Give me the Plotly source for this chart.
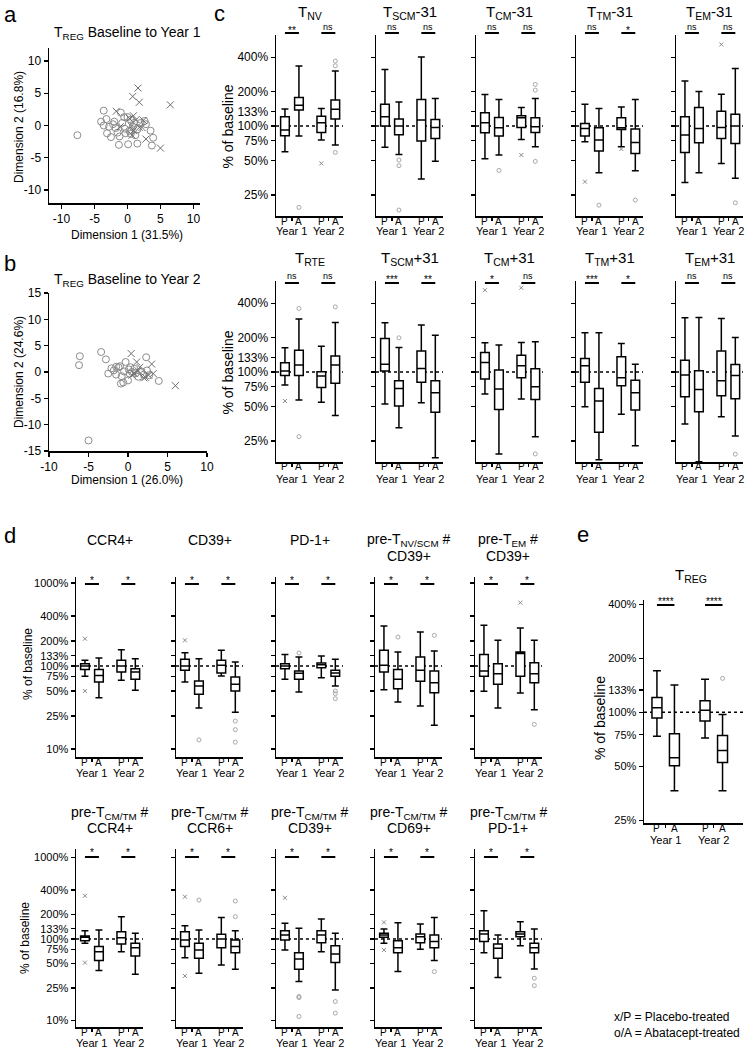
import plotly.graph_objects as go

W, H = 751, 1050
FONT = "Liberation Sans, Arial, sans-serif"

# ---------------- data ----------------
# Panel a: MDS coordinates (Baseline to Year 1)
a_abat_x = [-7.6, -3.6, -3.2, -4.0, -3.6, -3.1, -2.5, -2.0, -1.8, -1.5, -1.2, -1.0, -1.3, -0.5, -0.8, 0.0, 0.3, 0.5,
            -0.3, 0.1, 0.8, 1.0, 1.5, 1.5, 2.0, 2.6, 2.8, 3.5, 3.9, 3.7, -0.4, -2.8, 0.5, -2.2, 1.2]
a_abat_y = [-1.5, 2.3, 1.0, 0.6, 0.0, -1.2, -1.8, 0.6, -0.4, -1.1, -1.7, 2.0, -3.0, 1.3, 0.4, 1.3, -0.8, -1.3,
            -1.2, -2.9, -0.2, 0.4, -0.6, -2.8, 0.4, 0.7, 0.2, -0.8, -1.9, -3.1, -0.5, -0.2, 0.9, 0.2, -1.5]
a_plac_x = [1.6, 0.8, 1.8, 6.5, -1.7, 0.9, 0.3, 1.3, 2.4, 0.6, 0.9, 0.7, 2.8, 5.0, -1.1, 1.8, 2.2]
a_plac_y = [5.8, 4.5, 3.6, 3.2, 2.2, 1.5, 1.1, 0.9, 0.8, -0.1, -0.8, -1.5, -2.1, -3.5, -0.2, -0.3, -0.3]

# Panel b: MDS coordinates (Baseline to Year 2)
b_abat_x = [-6.1, -6.2, -3.4, -2.8, 2.3, -2.5, -2.1, -1.8, -1.5, -1.2, -1.0, -0.9, -0.6, -0.8, -0.5, -0.3, 0.0,
            0.2, 0.5, 0.8, 1.0, 1.3, 1.7, 2.0, 2.4, 2.7, 3.9, -5.0, 0.1, 0.3, -1.5]
b_abat_y = [3.0, 1.3, 3.8, 2.4, 2.8, -0.3, 0.7, 0.3, -0.5, 0.9, 1.1, -2.2, -2.0, -0.8, 0.1, 1.9, -1.6,
            -0.3, 0.0, 0.6, -0.2, -0.9, 0.1, -0.5, 0.3, -0.6, -1.7, -13.0, 0.5, 0.9, 1.0]
b_plac_x = [0.4, 1.1, 1.5, 2.0, 2.6, 3.0, 3.2, 6.0, 0.8, 1.3, 2.2, 0.5]
b_plac_y = [3.5, 1.9, 0.9, -1.1, -0.6, 1.5, -0.3, -2.6, -0.3, 0.2, -1.0, -0.6]

GROUP_LABELS = ["P", "A", "P", "A"]
YEAR_LABELS = ["Year 1", "Year 2"]

c_ticks = [25, 50, 75, 100, 133, 200, 400]
d_ticks = [10, 25, 50, 75, 100, 133, 200, 400, 1000]
e_ticks = [25, 50, 75, 100, 133, 200, 400]

# box stats: [lower whisker, Q1, median, Q3, upper whisker] (% of baseline), order P-Y1, A-Y1, P-Y2, A-Y2
c_top_titles = ["T<sub>NV</sub>", "T<sub>SCM</sub>-31", "T<sub>CM</sub>-31", "T<sub>TM</sub>-31", "T<sub>EM</sub>-31"]
c_top_sig = [["**", "ns"], ["ns", "ns"], ["ns", "ns"], ["ns", "*"], ["ns", "ns"]]
c_top_boxes = [
    [[59.7, 82.4, 92.3, 120.6, 140.7], [81.8, 138, 152, 178, 334], [75.5, 88, 107, 122, 142.6], [68.3, 115, 140, 169, 302]],
    [[65.2, 100, 120.6, 155, 312], [56.6, 84, 100, 115, 162], [34.5, 74, 113, 171, 400], [49.2, 78, 97.4, 114, 174]],
    [[51.9, 87.5, 107, 130.7, 189], [55.9, 81.8, 96.7, 119, 171], [76.5, 97.4, 118, 123, 145], [66, 88, 98.7, 118, 174]],
    [[73, 81.8, 95.4, 105.5, 155], [39.2, 60.5, 75.5, 96.7, 142.6], [66, 93.5, 96.7, 118, 147], [40.8, 57.7, 72, 94.1, 171]],
    [[32.2, 58.9, 83.5, 120.6, 247], [39.2, 71.5, 95.4, 145, 200], [47.2, 78, 97.4, 135, 190], [35, 70.6, 100, 127, 318]],
]
c_top_out = [
    [[], [19.5], [47.2], [369, 336, 58.9]],
    [[], [50.5, 45.1, 18.5], [], []],
    [[], [41], [55.9], [231, 206, 49.2]],
    [[32.7], [20.4], [63], [22.6]],
    [[], [], [516], [21.4]],
]

c_bot_titles = ["T<sub>RTE</sub>", "T<sub>SCM</sub>+31", "T<sub>CM</sub>+31", "T<sub>TM</sub>+31", "T<sub>EM</sub>+31"]
c_bot_sig = [["ns", "ns"], ["***", "**"], ["*", "ns"], ["***", "*"], ["ns", "ns"]]
c_bot_boxes = [
    [[77, 93.5, 102, 120.6, 163], [57, 93.5, 115, 155, 290], [54.4, 73.5, 92.3, 100.7, 168], [41.7, 79.7, 115, 138, 271]],
    [[52.6, 102, 117, 196, 269], [32.7, 50.5, 72, 84, 164], [54, 81.3, 107.6, 153, 257], [17.9, 44.5, 66, 84, 210]],
    [[64.3, 87, 121, 148, 180], [19.3, 47.2, 71, 104, 172], [58.2, 89.2, 113.5, 140, 181], [27.3, 57.7, 74.5, 107, 184]],
    [[49.9, 81.3, 113.5, 131.5, 220], [17.2, 29.8, 55.9, 72, 220], [42.8, 76, 89.2, 136, 178], [22.8, 46.6, 66, 85, 117]],
    [[35.2, 61, 94.1, 127, 298], [16.5, 45.1, 70.6, 102.7, 300], [40.8, 62.2, 84, 153, 294], [27.7, 58.5, 93.5, 116.6, 200]],
]
c_bot_out = [
    [[55.9], [359, 27.3], [], [371]],
    [[], [199], [], []],
    [[519], [], [544], [19.3]],
    [[], [], [], []],
    [[], [], [], [19.2]],
]

d_top_titles = [["CCR4+"], ["CD39+"], ["PD-1+"], ["pre-T<sub>NV/SCM</sub> #", "CD39+"], ["pre-T<sub>EM</sub> #", "CD39+"]]
d_top_boxes = [
    [[75.1, 91, 100, 106.7, 117], [41.5, 64, 77, 91, 125], [67.2, 84.7, 100, 117, 157], [50.9, 69.1, 84.7, 92.9, 122.6]],
    [[64, 88.7, 100, 120.3, 144.8], [31.2, 45.6, 57.4, 66, 122.6], [75.7, 82.3, 101.9, 117, 154.5], [27.8, 50, 60.1, 73.7, 111.7]],
    [[69.1, 92.9, 100, 106.7, 138], [48.6, 69.1, 82, 87, 128.4], [72.3, 95.5, 103.8, 108.7, 132], [57.4, 75.1, 82.3, 88.7, 120.3]],
    [[51.9, 84.7, 101.9, 154.5, 303], [36.8, 53.3, 69.1, 91, 147.5], [32.9, 65.3, 88.7, 128.4, 257], [19.3, 47.7, 63, 87, 151.7]],
    [[49.5, 75.1, 87, 138, 309], [31.2, 60.1, 80.8, 106.7, 204], [47.3, 75.1, 141, 147.5, 287], [29.8, 63, 80.8, 109.7, 204]],
]
d_top_out = [
    [[213, 50], [], [], []],
    [[204], [12.9], [], [21.7, 17.1, 12.1]],
    [[], [143.4], [], [50, 46.4, 40.4]],
    [[], [223], [], [234]],
    [[], [], [580], [19.8]],
]

d_bot_titles = [["pre-T<sub>CM/TM</sub> #", "CCR4+"], ["pre-T<sub>CM/TM</sub> #", "CCR6+"], ["pre-T<sub>CM/TM</sub> #", "CD39+"],
                ["pre-T<sub>CM/TM</sub> #", "CD69+"], ["pre-T<sub>CM/TM</sub> #", "PD-1+"]]
d_bot_boxes = [
    [[88.5, 95.4, 104.8, 108.8, 126.5], [40.9, 54.3, 69.9, 80.6, 128.9], [69.9, 86.9, 103.8, 123, 188], [36.9, 61.9, 78.3, 88.5, 117.3]],
    [[59, 80.6, 97.2, 123, 145.7], [38, 57.9, 73.3, 88.5, 128.9], [48, 78.3, 100, 114, 184], [42.5, 68, 80.6, 97.2, 126.5]],
    [[73.3, 97.2, 111.9, 126.5, 155.5], [30, 42.5, 56.9, 68, 135], [69.9, 90.2, 111.9, 126.5, 175.6], [23.7, 51.3, 65.5, 82.8, 117.3]],
    [[88.5, 104.8, 111.9, 117.3, 132.6], [39.8, 68, 78.3, 95.4, 158.5], [74.7, 90.2, 106.8, 115, 152.6], [54.3, 78.3, 92.8, 111.9, 184]],
    [[68, 92.8, 115, 126.5, 222], [33.7, 57.9, 76.9, 86.9, 111.9], [82.8, 106.8, 115, 123, 163], [42.9, 68, 78.3, 88.5, 132.6]],
]
d_bot_out = [
    [[339, 51.3], [], [], []],
    [[330, 35.2], [300], [], [292, 188]],
    [[320], [19.7, 19.1, 11.2], [], [17.1, 12.3]],
    [[160, 73.3], [], [], [39.8]],
    [[], [], [], [33, 26.8]],
]
d_sig = ["*", "*"]

e_title = "T<sub>REG</sub>"
e_boxes = [[73.4, 93, 105.8, 120.8, 170], [36.5, 50.4, 55.7, 75.9, 141.7],
           [71.8, 89.4, 102.6, 115.7, 152.5], [36.5, 52.4, 61.2, 74.3, 97]]
e_out = [[], [], [], [154.4]]
e_sig = ["****", "****"]

# ---------------- layout helpers ----------------
fig = go.Figure()
layout = dict(template="none", width=W, height=H, margin=dict(l=0, r=0, t=0, b=0, pad=0, autoexpand=False),
              paper_bgcolor="white", plot_bgcolor="white", showlegend=False, hovermode=False, boxmode="overlay",
              font=dict(family=FONT, color="black", size=12))
annotations = []
shapes = []
axn = [0]

AX = dict(showline=True, linecolor="black", linewidth=1.5, showgrid=False, zeroline=False, automargin=False,
          ticks="outside", ticklen=4, tickwidth=1.2, tickcolor="black", fixedrange=True,
          tickfont=dict(color="black", family=FONT))


def py(y):
    return 1 - y / H


def new_axes(xl, xr, yt, yb, xkw, ykw):
    axn[0] += 1
    n = axn[0]
    s = "" if n == 1 else str(n)
    layout["xaxis" + s] = dict(domain=[xl / W, xr / W], anchor="y" + s, **xkw)
    layout["yaxis" + s] = dict(domain=[1 - yb / H, 1 - yt / H], anchor="x" + s, **ykw)
    return "x" + s, "y" + s


def add_text(x, y, t, size, xref="paper", xanchor="center", **kw):
    annotations.append(dict(x=x / W if xref == "paper" else x, xref=xref, y=py(y), yref="paper",
                            text=t, showarrow=False, xanchor=xanchor, yanchor="middle",
                            font=dict(size=size, family=FONT, color="black"), **kw))


def box_panel(xl, wpx, yt, yb, yrange, pos, xrange, bw, ticks, show_lab, boxes, outs, sig,
              sig_line, sig_txt, pa_y, year_y, tick_size=11):
    xa, ya = new_axes(xl, xl + wpx, yt, yb,
                      dict(AX, range=xrange, tickvals=[(pos[0] + pos[1]) / 2, (pos[2] + pos[3]) / 2],
                           showticklabels=False, ticklen=3),
                      dict(AX, type="log", range=yrange, tickvals=ticks, ticktext=[f"{t}%" for t in ticks],
                           showticklabels=show_lab, tickfont=dict(size=tick_size, color="black", family=FONT)))
    shapes.append(dict(type="line", xref=xa + " domain", yref=ya, x0=0, x1=1, y0=100, y1=100,
                       line=dict(color="black", width=1.5, dash="dot"), layer="below"))
    for i in range(4):
        lo, q1, med, q3, hi = boxes[i]
        fig.add_trace(go.Box(x=[pos[i]], q1=[q1], median=[med], q3=[q3], lowerfence=[lo], upperfence=[hi],
                             width=bw, xaxis=xa, yaxis=ya, fillcolor="white", boxpoints=False,
                             line=dict(color="black", width=1.5), whiskerwidth=0.8, hoverinfo="skip"))
        if outs[i]:
            if i % 2 == 0:
                mk = dict(symbol="x-thin", size=4, color="#8a8a8a", line=dict(width=1, color="#8a8a8a"))
            else:
                mk = dict(symbol="circle-open", size=4, color="#a8a8a8", line=dict(width=1, color="#a8a8a8"))
            fig.add_trace(go.Scatter(x=[pos[i]] * len(outs[i]), y=outs[i], mode="markers", marker=mk,
                                     xaxis=xa, yaxis=ya, hoverinfo="skip"))
        add_text(pos[i], pa_y, GROUP_LABELS[i], 10, xref=xa)
    for j in range(2):
        a, b = pos[2 * j], pos[2 * j + 1]
        shapes.append(dict(type="line", xref=xa, yref="paper", x0=a, x1=b, y0=py(sig_line), y1=py(sig_line),
                           line=dict(color="black", width=2)))
        s = sig[j]
        add_text((a + b) / 2, sig_txt + (0 if s == "ns" else 3), s, 9 if s == "ns" else 10, xref=xa)
        add_text((a + b) / 2, year_y, YEAR_LABELS[j], 11, xref=xa)
    return xa, ya


# ---------------- panels a & b ----------------
dim_ticks = [-10, -5, 0, 5, 10]
dim_text = ["-10", "-5", "0", "5", "10"]
for (xl, xr, yt, yb, xr_rng, yr_rng, ax_x, ax_y, pl_x, pl_y, title, ty, xlab, ylab, xlab_y, ylab_y, yticks) in [
    (49, 200, 48, 203, [-11.9, 11.0], [-12, 12], a_abat_x, a_abat_y, a_plac_x, a_plac_y,
     "T<sub>REG</sub> Baseline to Year 1", 33, "Dimension 1 (31.5%)", "Dimension 2 (16.8%)", 235, 127,
     ([-10, -5, 0, 5, 10], ["-10", "-5", "0", "5", "10"])),
    (49, 207, 293, 451, [-10, 10], [-15, 15], b_abat_x, b_abat_y, b_plac_x, b_plac_y,
     "T<sub>REG</sub> Baseline to Year 2", 280, "Dimension 1 (26.0%)", "Dimension 2 (24.6%)", 480, 372,
     ([-15, -10, -5, 0, 5, 10, 15], ["-15", "-10", "-5", "0", "5", "10", "15"])),
]:
    xa, ya = new_axes(xl, xr, yt, yb,
                      dict(AX, range=xr_rng, tickvals=dim_ticks, ticktext=dim_text,
                           tickfont=dict(size=12, color="black", family=FONT)),
                      dict(AX, range=yr_rng, tickvals=yticks[0], ticktext=yticks[1],
                           tickfont=dict(size=12, color="black", family=FONT)))
    fig.add_trace(go.Scatter(x=ax_x, y=ax_y, mode="markers", xaxis=xa, yaxis=ya, hoverinfo="skip",
                             marker=dict(symbol="circle-open", size=7, color="#8c8c8c", line=dict(width=1))))
    fig.add_trace(go.Scatter(x=pl_x, y=pl_y, mode="markers", xaxis=xa, yaxis=ya, hoverinfo="skip",
                             marker=dict(symbol="x-thin-open", size=7, color="#6e6e6e",
                                         line=dict(width=1, color="#6e6e6e"))))
    add_text(127, ty, title, 14)
    add_text(127, xlab_y, xlab, 12)
    add_text(19, ylab_y, ylab, 12, textangle=-90)

add_text(10, 15, "a", 22)
add_text(10, 263, "b", 22)

# ---------------- panel c ----------------
POS = [0, 1, 2.6, 3.6]
XR = [-0.64, 4.15]
CY = [1.215, 2.795]
for row, (titles, sigs, boxes, outs, yt, yb, ttl_y, sl, st, pa, yr) in enumerate([
    (c_top_titles, c_top_sig, c_top_boxes, c_top_out, 35, 216, 12, 33, 27, 221, 231),
    (c_bot_titles, c_bot_sig, c_bot_boxes, c_bot_out, 281, 462, 258, 283, 276, 467, 479),
]):
    for k in range(5):
        xl = 276 + 100 * k
        box_panel(xl, 67, yt, yb, CY, POS, XR, 0.62, c_ticks, k == 0, boxes[k], outs[k], sigs[k], sl, st, pa, yr,
                  tick_size=12)
        add_text(xl + 33.5, ttl_y, titles[k], 15)
    add_text(227, (yt + yb) / 2 + 1, "% of baseline", 14, textangle=-90)
add_text(220, 13, "c", 22)

# ---------------- panel d ----------------
D_X = [76, 176, 276, 375, 475]
for row, (titles, boxes, outs, yt, yb, yrange, line1, line2, single, sl, st, pa, yr, lab_y, lab_x) in enumerate([
    (d_top_titles, d_top_boxes, d_top_out, 577, 757, [0.904, 3.072], 540, 556, 540, 584, 577, 762, 773, 664, 28),
    (d_bot_titles, d_bot_boxes, d_bot_out, 849, 1027, [0.92, 3.104], 813, 828, 813, 857, 849, 1032, 1043, 938, 25),
]):
    for k in range(5):
        xl = D_X[k]
        box_panel(xl, 67, yt, yb, yrange, POS, XR, 0.62, d_ticks, k == 0, boxes[k], outs[k], d_sig, sl, st, pa, yr)
        t = titles[k]
        if len(t) == 1:
            add_text(xl + 33.5, single, t[0], 14)
        else:
            add_text(xl + 33.5, line1, t[0], 14)
            add_text(xl + 33.5, line2, t[1], 14)
    add_text(lab_x, lab_y, "% of baseline", 12, textangle=-90)
add_text(10, 535, "d", 22)

# ---------------- panel e ----------------
POS_E = [0, 1, 2.75, 3.75]
box_panel(644, 99, 600, 823, [1.383, 2.625], POS_E, [-0.74, 4.92], 0.57, e_ticks, True, e_boxes, e_out, e_sig,
          605, 598, 828, 840)
add_text(691, 575, e_title, 15)
add_text(600, 718, "% of baseline", 14, textangle=-90)
add_text(583, 534, "e", 22)

# legend text
add_text(612, 1017, "x/P = Placebo-treated", 12, xanchor="left")
add_text(612, 1033, "o/A = Abatacept-treated", 12, xanchor="left")

layout["annotations"] = annotations
layout["shapes"] = shapes
fig.update_layout(**layout)
fig.write_html("out.html", config={"displayModeBar": False, "staticPlot": True},
               post_script="document.body.style.margin='0px';document.body.style.padding='0px';")
